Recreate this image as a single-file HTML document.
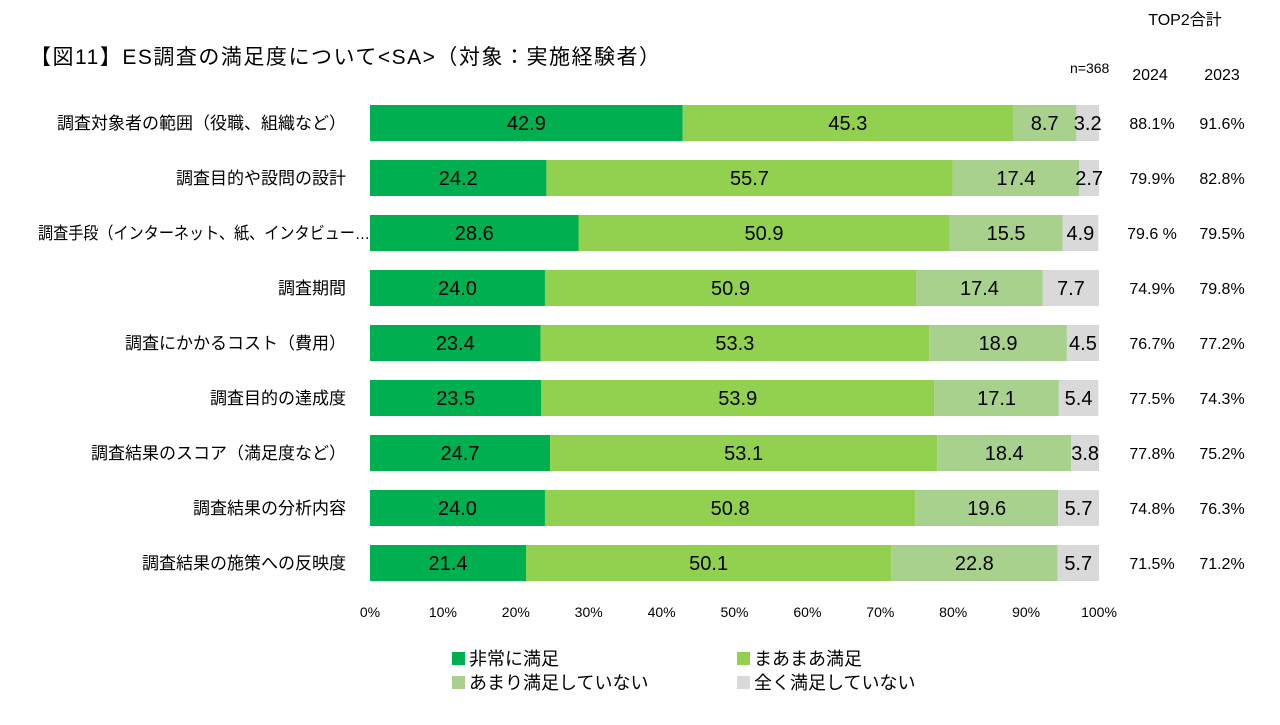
<!DOCTYPE html>
<html><head><meta charset="utf-8">
<style>
body{margin:0;background:#fff;width:1280px;height:720px;overflow:hidden;font-family:"Liberation Sans","Noto Sans CJK JP",sans-serif;}
svg text{font-family:"Liberation Sans","Noto Sans CJK JP",sans-serif;}
</style></head>
<body>
<svg id="chart" width="1280" height="720">
<text x="30" y="64" font-size="21" textLength="630" fill="#000">【図11】ES調査の満足度について&lt;SA&gt;（対象：実施経験者）</text>
<text x="1070" y="73" font-size="14" fill="#000">n=368</text>
<text x="1185" y="25" font-size="16" fill="#000" text-anchor="middle">TOP2合計</text>
<text x="1150" y="80" font-size="16" fill="#000" text-anchor="middle">2024</text>
<text x="1222" y="80" font-size="16" fill="#000" text-anchor="middle">2023</text>
<g id="plot"></g>
<g id="legend"></g>
</svg>
<script>
const categories=["調査対象者の範囲（役職、組織など）","調査目的や設問の設計","調査手段（インターネット、紙、インタビュー…","調査期間","調査にかかるコスト（費用）","調査目的の達成度","調査結果のスコア（満足度など）","調査結果の分析内容","調査結果の施策への反映度"];
const verySatisfied=[42.9,24.2,28.6,24.0,23.4,23.5,24.7,24.0,21.4];
const somewhatSatisfied=[45.3,55.7,50.9,50.9,53.3,53.9,53.1,50.8,50.1];
const notVery=[8.7,17.4,15.5,17.4,18.9,17.1,18.4,19.6,22.8];
const notAtAll=[3.2,2.7,4.9,7.7,4.5,5.4,3.8,5.7,5.7];
const top2024=["88.1%","79.9%","79.6 %","74.9%","76.7%","77.5%","77.8%","74.8%","71.5%"];
const top2023=["91.6%","82.8%","79.5%","79.8%","77.2%","74.3%","75.2%","76.3%","71.2%"];
const ticks=[0,10,20,30,40,50,60,70,80,90,100];
const seriesNames=["非常に満足","まあまあ満足","あまり満足していない","全く満足していない"];
const colors=["#00b050","#92d050","#a9d18e","#d9d9d9"];
const series=[verySatisfied,somewhatSatisfied,notVery,notAtAll];
const NS="http://www.w3.org/2000/svg";
const x0=370,x1=1099;
const xs=v=>x0+(x1-x0)*v/100;
const ys=i=>123+i*55;
const bh=36;
const plot=document.getElementById('plot');
function mk(tag,attrs,txt){const e=document.createElementNS(NS,tag);for(const k in attrs)e.setAttribute(k,attrs[k]);if(txt!==undefined)e.textContent=txt;return e;}
categories.forEach((c,i)=>{
  const attrs={x:346,y:ys(i)+6,'font-size':17,'text-anchor':'end',fill:'#000'};
  if(c.length>20){attrs.x=370;attrs.textLength=332;attrs.lengthAdjust='spacingAndGlyphs';}
  const t=mk('text',attrs,c);
  
  
  plot.appendChild(t);
  let acc=0;
  series.forEach((s,k)=>{
    const v=s[i];
    const xa=xs(acc),xb=xs(Math.min(100,acc+v));
    const r=mk('rect',{x:xa,y:ys(i)-bh/2,width:Math.max(0,xb-xa),height:bh,fill:colors[k]});
    
    
    plot.appendChild(r);
    const l=mk('text',{x:(xa+xb)/2,y:ys(i)+7,'font-size':20,'text-anchor':'middle',fill:'#000'},v.toFixed(1));
    
    
    plot.appendChild(l);
    acc+=v;
  });
  const a=mk('text',{x:1152,y:ys(i)+6,'font-size':16,'text-anchor':'middle',fill:'#000'},top2024[i]);
  
  
  plot.appendChild(a);
  const b=mk('text',{x:1222,y:ys(i)+6,'font-size':16,'text-anchor':'middle',fill:'#000'},top2023[i]);
  
  
  plot.appendChild(b);
});
ticks.forEach(t=>{
  const e=mk('text',{x:xs(t),y:617,'font-size':14,'text-anchor':'middle',fill:'#000'},t+'%');
  
  
  plot.appendChild(e);
});
const lg=document.getElementById('legend');
const lpos=[[452,658],[737,658],[452,682],[737,682]];
seriesNames.forEach((n,k)=>{
  const g=mk('g',{});
  
  
  g.appendChild(mk('rect',{x:lpos[k][0],y:lpos[k][1]-6,width:13,height:13,fill:colors[k]}));
  g.appendChild(mk('text',{x:lpos[k][0]+17,y:lpos[k][1]+7,'font-size':18,fill:'#000'},n));
  lg.appendChild(g);
});
</script>
</body></html>
